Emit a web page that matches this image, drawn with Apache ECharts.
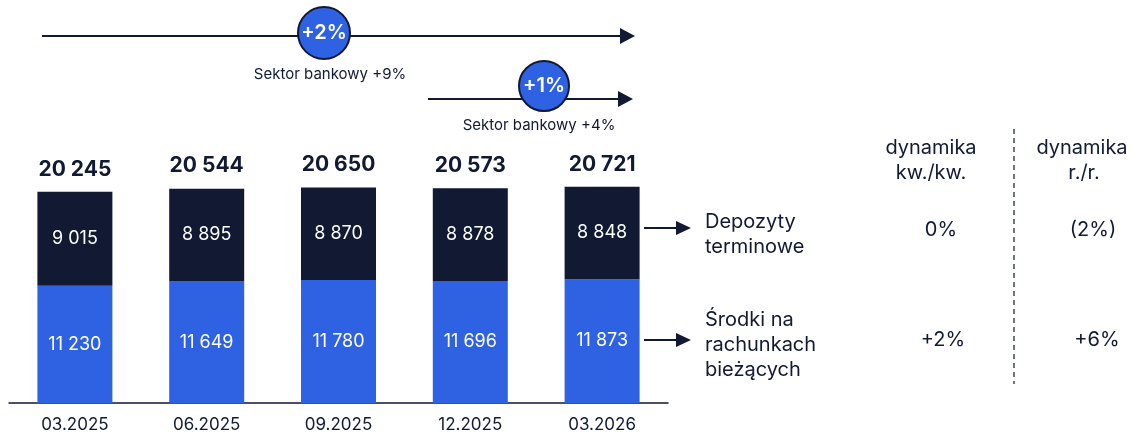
<!DOCTYPE html>
<html>
<head>
<meta charset="utf-8">
<script src="https://cdn.jsdelivr.net/npm/echarts@6/dist/echarts.min.js"></script>
<style>
  html, body { margin: 0; padding: 0; background: #fff; }
  #chart { width: 1133px; height: 436px; }
</style>
</head>
<body>
<div id="chart"></div>
<script>
var quarters = ['03.2025', '06.2025', '09.2025', '12.2025', '03.2026'];
var biezace = [11230, 11649, 11780, 11696, 11873];
var terminowe = [9015, 8895, 8870, 8878, 8848];
var sumy = [20245, 20544, 20650, 20573, 20721];

var navy = '#111933';
var blue = '#2f62e3';
var font = 'Inter';

function fmt(v) {
    return String(v).replace(/\B(?=(\d{3})+(?!\d))/g, ' ');
}

function arrow(x1, x2, y, w, h) {
    return [{
        type: 'line',
        shape: { x1: x1, y1: y, x2: x2 - w + 1, y2: y },
        style: { stroke: navy, lineWidth: 2 }
    }, {
        type: 'polygon',
        shape: { points: [[x2 - w, y - h], [x2, y], [x2 - w, y + h]] },
        style: { fill: navy }
    }];
}

function txt(x, y, s, size, align, weight, color) {
    return {
        type: 'text', x: x, y: y,
        style: {
            text: s, fill: color || navy, font: (weight || 'normal') + ' ' + size + 'px ' + font,
            align: align || 'center', verticalAlign: 'middle'
        }
    };
}

function bubble(cx, cy, r, s) {
    return [{
        type: 'circle',
        shape: { cx: cx, cy: cy, r: r },
        style: { fill: blue, stroke: navy, lineWidth: 2 }
    }, txt(cx, cy, s, 20, 'center', '600', '#fff')];
}

var graphics = [].concat(
    arrow(42, 635, 36, 15, 8),
    bubble(324, 33, 26, '+2%'),
    [txt(330, 74, 'Sektor bankowy +9%', 15)],
    arrow(428, 633, 99, 15, 8),
    bubble(544, 86, 25, '+1%'),
    [txt(539, 125, 'Sektor bankowy +4%', 15)],
    arrow(644, 691, 228, 15, 7),
    arrow(644, 691, 340, 15, 7),
    [
        txt(705, 222, 'Depozyty', 20, 'left'),
        txt(705, 247, 'terminowe', 20, 'left'),
        txt(705, 320, 'Środki na', 20, 'left'),
        txt(705, 345, 'rachunkach', 20, 'left'),
        txt(705, 370, 'bieżących', 20, 'left'),
        txt(931, 148, 'dynamika', 20),
        txt(931, 173, 'kw./kw.', 20),
        txt(1082, 148, 'dynamika', 20),
        txt(1084, 173, 'r./r.', 20),
        txt(941, 230, '0%', 20),
        txt(1093, 230, '(2%)', 20),
        txt(943, 340, '+2%', 20),
        txt(1097, 340, '+6%', 20),
        {
            type: 'line',
            shape: { x1: 1014, y1: 129, x2: 1014, y2: 384 },
            style: { stroke: navy, lineWidth: 1.2, lineDash: [5, 4] }
        }
    ]
);

var myChart = echarts.init(document.getElementById('chart'));
var option = {
    animation: false,
    textStyle: { fontFamily: font },
    grid: { left: 9, width: 659, top: 90, bottom: 33 },
    xAxis: {
        type: 'category',
        data: quarters,
        axisTick: { show: false },
        axisLine: { lineStyle: { color: navy, width: 1.5 } },
        axisLabel: { color: navy, fontSize: 17, margin: 13, fontFamily: font }
    },
    yAxis: { type: 'value', min: 0, max: 30000, show: false, splitLine: { show: false } },
    series: [{
        name: 'Środki na rachunkach bieżących',
        type: 'bar',
        stack: 'a',
        barWidth: 75,
        data: biezace,
        itemStyle: { color: blue },
        label: {
            show: true, position: 'inside', color: '#fff', fontSize: 18, fontFamily: font,
            formatter: function(p) { return fmt(p.value); }
        }
    }, {
        name: 'Depozyty terminowe',
        type: 'bar',
        stack: 'a',
        barWidth: 75,
        data: terminowe,
        itemStyle: { color: navy },
        label: {
            show: true, position: 'inside', color: '#fff', fontSize: 18, fontFamily: font,
            formatter: function(p) { return fmt(p.value); }
        }
    }, {
        name: 'Suma',
        type: 'bar',
        stack: 'a',
        barWidth: 75,
        data: sumy.map(function() { return 0; }),
        itemStyle: { color: 'transparent' },
        label: {
            show: true, position: 'top', distance: 12, color: navy, fontSize: 21,
            fontWeight: 'bold', fontFamily: font,
            formatter: function(p) { return fmt(sumy[p.dataIndex]); }
        }
    }],
    graphic: graphics
};
myChart.setOption(option);
</script>
</body>
</html>
